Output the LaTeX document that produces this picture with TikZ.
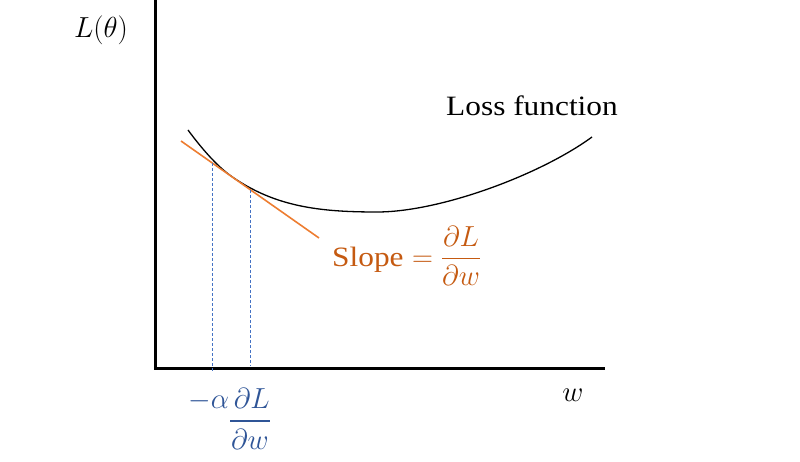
\RequirePackage{fix-cm}
\documentclass[tikz,border=0pt]{standalone}
\usepackage{fontspec}
\usepackage{amsmath}
\setmainfont[FakeStretch=1.12]{Liberation Serif}
\definecolor{lineorange}{HTML}{ED7D31}
\definecolor{textorange}{HTML}{C55A11}
\definecolor{lineblue}{HTML}{4472C4}
\definecolor{textblue}{HTML}{2F5597}
\begin{document}
\begin{tikzpicture}[x=1pt,y=-1pt,
  axis/.style={line width=3pt},
  losscurve/.style={line width=1.3pt, black},
  tangent/.style={line width=1.6pt, lineorange},
  guide/.style={line width=1pt, lineblue, dash pattern=on 3pt off 2pt},
  bigmath/.style={font=\fontsize{29}{33}\selectfont, inner sep=0pt},
  label/.style={font=\fontsize{28}{32}\selectfont, inner sep=0pt}]
\useasboundingbox (0,0) rectangle (800,462);
% axes
\coordinate (ytop) at (155,0);
\coordinate (origin) at (155,368);
\coordinate (xend) at (605,368);
\draw[axis] (ytop) -- (origin) -- (xend);
% loss curve
\coordinate (c0) at (188,130);
\coordinate (c1) at (231,176);
\coordinate (c2) at (377,212);
\coordinate (c3) at (592,137);
\draw[losscurve] (c0) .. controls (202,149) and (217,166) .. (c1)
  .. controls (275,207) and (320,212) .. (c2)
  .. controls (440,212) and (540,175) .. (c3);
% tangent
\coordinate (tA) at (181,141);
\coordinate (tB) at (319,238);
\draw[tangent] (tA) -- (tB);
% dashed guides
\coordinate (g1top) at (212,163);
\coordinate (g1bot) at (212,372);
\coordinate (g2top) at (250,190);
\coordinate (g2bot) at (250,366);
\draw[guide] (g1top) -- (g1bot);
\draw[guide] (g2top) -- (g2bot);
% labels
\node[bigmath] (ylab) at (101,30) {$L(\theta)$};
\node[bigmath] (xlab) at (573,395) {$w$};
\node[label, anchor=base] (loss) at (532,116) {Loss function};
\node[label, textorange, anchor=base west] (slope) at (332,266) {Slope};
\node[bigmath, textorange, anchor=base west] (slopeeq) at (slope.base east) {$\;=\dfrac{\partial L}{\partial w}$};
% step label
\node[bigmath, textblue, anchor=base west] (stepnum) at (188,408) {$-\alpha\,\partial L$};
\coordinate (barL) at (230,421);
\coordinate (barR) at (270,421);
\draw[textblue, line width=1.6pt] (barL) -- (barR);
\node[bigmath, textblue, anchor=base] (stepden) at (250,449) {$\partial w$};
\end{tikzpicture}
\end{document}
